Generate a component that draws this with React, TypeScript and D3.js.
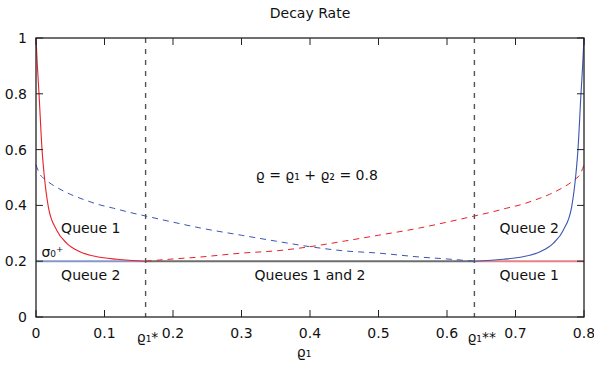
import React from "react";
import * as d3 from "d3";

const xTicks = [0, 0.1, 0.2, 0.3, 0.4, 0.5, 0.6, 0.7, 0.8];
const yTicks = [0, 0.2, 0.4, 0.6, 0.8, 1];
const xTickLabels = ["0", "0.1", "0.2", "0.3", "0.4", "0.5", "0.6", "0.7", "0.8"];
const yTickLabels = ["0", "0.2", "0.4", "0.6", "0.8", "1"];

const rhoStar = 0.16;
const rhoStarStar = 0.64;
const sigmaPlus = 0.2;

// Queue 1 decay rate, solid red (0 .. rho1*)
const redSolidX = [0, 0.002, 0.0044, 0.0088, 0.0117, 0.018, 0.03, 0.045, 0.064, 0.089, 0.118, 0.16];
const redSolidY = [1, 0.9, 0.8, 0.6, 0.515, 0.395, 0.312, 0.264, 0.234, 0.216, 0.207, 0.2];

// Queue 2 decay rate, solid blue (rho1** .. 0.8)
const blueSolidX = [0.64, 0.682, 0.711, 0.736, 0.755, 0.77, 0.782, 0.7883, 0.7912, 0.7956, 0.798, 0.8];
const blueSolidY = [0.2, 0.207, 0.216, 0.234, 0.264, 0.312, 0.395, 0.515, 0.6, 0.8, 0.9, 1];

// dashed blue (0 .. rho1**)
const blueDashX = [0, 0.005, 0.015, 0.033, 0.05, 0.072, 0.09, 0.113, 0.135, 0.16, 0.2, 0.24, 0.3, 0.35, 0.4, 0.45, 0.5, 0.53, 0.56, 0.6, 0.64];
const blueDashY = [0.545, 0.515, 0.49, 0.461, 0.44, 0.419, 0.404, 0.39, 0.376, 0.362, 0.34, 0.319, 0.293, 0.272, 0.252, 0.237, 0.229, 0.222, 0.215, 0.208, 0.2];

// dashed red (rho1* .. 0.8)
const redDashX = [0.16, 0.2, 0.24, 0.27, 0.3, 0.35, 0.4, 0.45, 0.5, 0.56, 0.6, 0.64, 0.665, 0.687, 0.71, 0.728, 0.75, 0.767, 0.785, 0.795, 0.8];
const redDashY = [0.2, 0.208, 0.215, 0.222, 0.229, 0.237, 0.252, 0.272, 0.293, 0.319, 0.34, 0.362, 0.376, 0.39, 0.404, 0.419, 0.44, 0.461, 0.49, 0.515, 0.545];

const FONT = "'DejaVu Sans', sans-serif";

export default function App() {
  const W = 594, H = 371;
  const L = 36, R = 584, T = 38, B = 317;
  const x = d3.scaleLinear().domain([0, 0.8]).range([L, R]);
  const y = d3.scaleLinear().domain([0, 1]).range([B, T]);

  const line = d3
    .line<[number, number]>()
    .x((d) => x(d[0]))
    .y((d) => y(d[1]))
    .curve(d3.curveMonotoneX);

  const zip = (a: number[], b: number[]) => a.map((v, i) => [v, b[i]] as [number, number]);

  const red = "#e8202a";
  const blue = "#3a56b0";

  return (
    <svg
      width={W}
      height={H}
      style={{ position: "absolute", left: 0, top: 0, background: "#fff" }}
      fontFamily={FONT}
    >
      <rect x={0} y={0} width={W} height={H} fill="#fff" />
      {/* horizontal sigma0+ segments */}
      <line x1={x(0)} x2={x(rhoStar)} y1={y(sigmaPlus)} y2={y(sigmaPlus)} stroke="#8797cc" strokeWidth={2} />
      <line x1={x(rhoStar)} x2={x(rhoStarStar)} y1={y(sigmaPlus)} y2={y(sigmaPlus)} stroke="#6e6e6e" strokeWidth={2} />
      <line x1={x(rhoStarStar)} x2={x(0.8)} y1={y(sigmaPlus)} y2={y(sigmaPlus)} stroke="#e98085" strokeWidth={2} />

      {/* dashed curves */}
      <path d={line(zip(blueDashX, blueDashY)) || ""} fill="none" stroke={blue} strokeWidth={1} strokeDasharray="6,5" />
      <path d={line(zip(redDashX, redDashY)) || ""} fill="none" stroke={red} strokeWidth={1} strokeDasharray="6,5" />

      {/* solid curves */}
      <path d={line(zip(redSolidX, redSolidY)) || ""} fill="none" stroke={red} strokeWidth={1.1} />
      <path d={line(zip(blueSolidX, blueSolidY)) || ""} fill="none" stroke={blue} strokeWidth={1.1} />

      {/* vertical dashed lines */}
      {[rhoStar, rhoStarStar].map((v, i) => (
        <line key={i} x1={x(v)} x2={x(v)} y1={y(1)} y2={y(0)} stroke="#555" strokeWidth={1.4} strokeDasharray="5,6" />
      ))}

      {/* border */}
      <rect x={L} y={T} width={R - L} height={B - T} fill="none" stroke="#222" strokeWidth={1.3} />

      {/* ticks */}
      {xTicks.map((t, i) => (
        <g key={"xt" + i}>
          <line x1={x(t)} x2={x(t)} y1={B} y2={B - 7} stroke="#222" strokeWidth={1} />
          <line x1={x(t)} x2={x(t)} y1={T} y2={T + 7} stroke="#222" strokeWidth={1} />
          <text x={x(t)} y={B + 21} textAnchor="middle" fontSize={14} fill="#111">
            {xTickLabels[i]}
          </text>
        </g>
      ))}
      {yTicks.map((t, i) => (
        <g key={"yt" + i}>
          <line x1={L} x2={L + 7} y1={y(t)} y2={y(t)} stroke="#222" strokeWidth={1} />
          <line x1={R} x2={R - 7} y1={y(t)} y2={y(t)} stroke="#222" strokeWidth={1} />
          <text x={L - 9} y={y(t) + 5} textAnchor="end" fontSize={14} fill="#111">
            {yTickLabels[i]}
          </text>
        </g>
      ))}

      {/* special x labels */}
      <text x={x(rhoStar) + 2} y={B + 25} textAnchor="middle" fontSize={14} fill="#111">ϱ₁*</text>
      <text x={x(rhoStarStar) - 7} y={B + 25} textAnchor="start" fontSize={14} fill="#111">ϱ₁**</text>

      {/* axis label and title */}
      <text x={(L + R) / 2 - 6} y={B + 40} textAnchor="middle" fontSize={14} fill="#111">ϱ₁</text>
      <text x={(L + R) / 2} y={18} textAnchor="middle" fontSize={14} fill="#111">Decay Rate</text>

      {/* annotations */}
      <text x={x(0.08)} y={y(sigmaPlus) - 28} textAnchor="middle" fontSize={14} fill="#111">Queue 1</text>
      <text x={x(0.08)} y={y(sigmaPlus) + 19} textAnchor="middle" fontSize={14} fill="#111">Queue 2</text>
      <text x={x(0.008)} y={y(sigmaPlus) - 4} textAnchor="start" fontSize={14} fill="#111">σ₀⁺</text>
      <text x={x(0.41)} y={y(0.49)} textAnchor="middle" fontSize={14} fill="#111">ϱ = ϱ₁ + ϱ₂ = 0.8</text>
      <text x={x(0.4)} y={y(sigmaPlus) + 19} textAnchor="middle" fontSize={14} fill="#111">Queues 1 and 2</text>
      <text x={x(0.72)} y={y(sigmaPlus) - 28} textAnchor="middle" fontSize={14} fill="#111">Queue 2</text>
      <text x={x(0.72)} y={y(sigmaPlus) + 19} textAnchor="middle" fontSize={14} fill="#111">Queue 1</text>
    </svg>
  );
}
